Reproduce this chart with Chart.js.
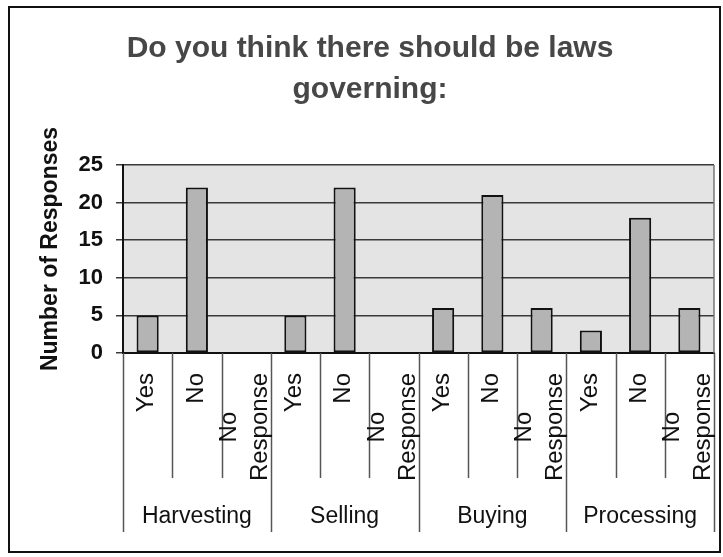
<!DOCTYPE html>
<html>
<head>
<meta charset="utf-8">
<script src="https://cdn.jsdelivr.net/npm/chart.js@4/dist/chart.umd.min.js"></script>
<style>
  html, body { margin: 0; padding: 0; background: #fff; }
  #wrap { width: 723px; height: 557px; }
</style>
</head>
<body>
<div id="wrap"><canvas id="myChart" width="723" height="557"></canvas></div>
<script>
// survey groups and answers
const groups = ['Harvesting', 'Selling', 'Buying', 'Processing'];
const answers = ['Yes', 'No', ['No', 'Response']];

// responses per group (Yes, No, No Response)
const harvesting = [5, 22, 0];
const selling = [5, 22, 0];
const buying = [6, 21, 6];
const processing = [3, 18, 6];

const yMax = 25;
const yStep = 5;

const titleLines = ['Do you think there should be laws', 'governing:'];
const yTitle = 'Number of Responses';

const FONT = 'Arial, "Liberation Sans", sans-serif';

const labels = [];
groups.forEach(g => answers.forEach(a => labels.push(a)));
const values = [].concat(harvesting, selling, buying, processing);

// background, title, divider lines, rotated labels, group names, outer box
const decor = {
    id: 'decor',
    beforeDraw(chart) {
        const { ctx, chartArea: a } = chart;
        ctx.save();
        ctx.fillStyle = '#e4e4e4';
        ctx.fillRect(a.left, a.top, a.right - a.left, a.bottom - a.top);
        ctx.restore();
    },
    afterDraw(chart) {
        const { ctx, chartArea: a } = chart;
        const xs = chart.scales.x;
        const ys = chart.scales.y;
        const cw = xs.getPixelForValue(1) - xs.getPixelForValue(0);
        ctx.save();

        // chart title
        ctx.fillStyle = '#474747';
        ctx.font = 'bold 30px ' + FONT;
        ctx.textAlign = 'center';
        ctx.textBaseline = 'middle';
        titleLines.forEach((t, i) => ctx.fillText(t, 370, 49 + i * 41));

        // y axis title
        ctx.save();
        ctx.fillStyle = '#111';
        ctx.font = 'bold 23px ' + FONT;
        ctx.translate(51, ys.getPixelForValue(yMax / 2) - 10);
        ctx.rotate(-Math.PI / 2);
        ctx.fillText(yTitle, 0, 0);
        ctx.restore();

        // plot right border
        ctx.strokeStyle = '#777';
        ctx.lineWidth = 1.5;
        ctx.beginPath();
        ctx.moveTo(a.right, a.top);
        ctx.lineTo(a.right, a.bottom);
        ctx.stroke();

        // dividers under the axis
        ctx.strokeStyle = '#555';
        ctx.lineWidth = 1.5;
        for (let i = 0; i <= labels.length; i++) {
            const x = Math.round(xs.getPixelForValue(0) - cw / 2 + i * cw) + 0.5;
            ctx.beginPath();
            ctx.moveTo(x, a.bottom);
            ctx.lineTo(x, i % 3 === 0 ? a.bottom + 179 : a.bottom + 125);
            ctx.stroke();
        }

        // answer labels, rotated
        ctx.fillStyle = '#111';
        ctx.font = '24px ' + FONT;
        const top = a.bottom + 20;
        labels.forEach((lab, i) => {
            const cx = xs.getPixelForValue(i);
            ctx.save();
            if (Array.isArray(lab)) {
                const wMax = Math.max(...lab.map(t => ctx.measureText(t).width));
                ctx.translate(cx, top + wMax / 2);
                ctx.rotate(-Math.PI / 2);
                ctx.textAlign = 'center';
                ctx.textBaseline = 'middle';
                lab.forEach((t, j) => ctx.fillText(t, 0, -17 + j * 31));
            } else {
                ctx.translate(cx, top);
                ctx.rotate(-Math.PI / 2);
                ctx.textAlign = 'right';
                ctx.textBaseline = 'middle';
                ctx.fillText(lab, 0, -1);
            }
            ctx.restore();
        });

        // group names
        ctx.font = '23px ' + FONT;
        ctx.textAlign = 'center';
        ctx.textBaseline = 'middle';
        groups.forEach((g, k) => {
            const cx = xs.getPixelForValue(k * 3 + 1);
            ctx.fillText(g, cx, a.bottom + 164);
        });

        // outer frame
        ctx.strokeStyle = '#111';
        ctx.lineWidth = 2;
        ctx.strokeRect(9, 7, 711, 545);
        ctx.restore();
    }
};

const ctx = document.getElementById('myChart').getContext('2d');
const myChart = new Chart(ctx, {
    type: 'bar',
    data: {
        labels: labels,
        datasets: [{
            label: 'Responses',
            data: values,
            backgroundColor: '#b4b4b4',
            borderColor: '#111',
            borderWidth: 2,
            borderSkipped: false,
            barPercentage: 0.45,
            categoryPercentage: 1
        }]
    },
    options: {
        responsive: false,
        animation: false,
        layout: { padding: { left: 0, right: 9, top: 165, bottom: 0 } },
        plugins: {
            legend: { display: false },
            tooltip: { enabled: false },
            title: { display: false }
        },
        scales: {
            x: {
                ticks: { display: false },
                grid: { display: false },
                border: { display: true, color: '#111', width: 2 },
                afterFit(scale) { scale.height = 204; }
            },
            y: {
                min: 0,
                max: yMax,
                ticks: {
                    stepSize: yStep,
                    color: '#111',
                    padding: 13,
                    font: { family: FONT, size: 22, weight: 'bold' }
                },
                grid: { color: '#3a3a3a', lineWidth: 1.5, tickLength: 7, drawTicks: true },
                border: { display: true, color: '#111', width: 2 },
                afterFit(scale) { scale.width = 123; }
            }
        }
    },
    plugins: [decor]
});
</script>
</body>
</html>
